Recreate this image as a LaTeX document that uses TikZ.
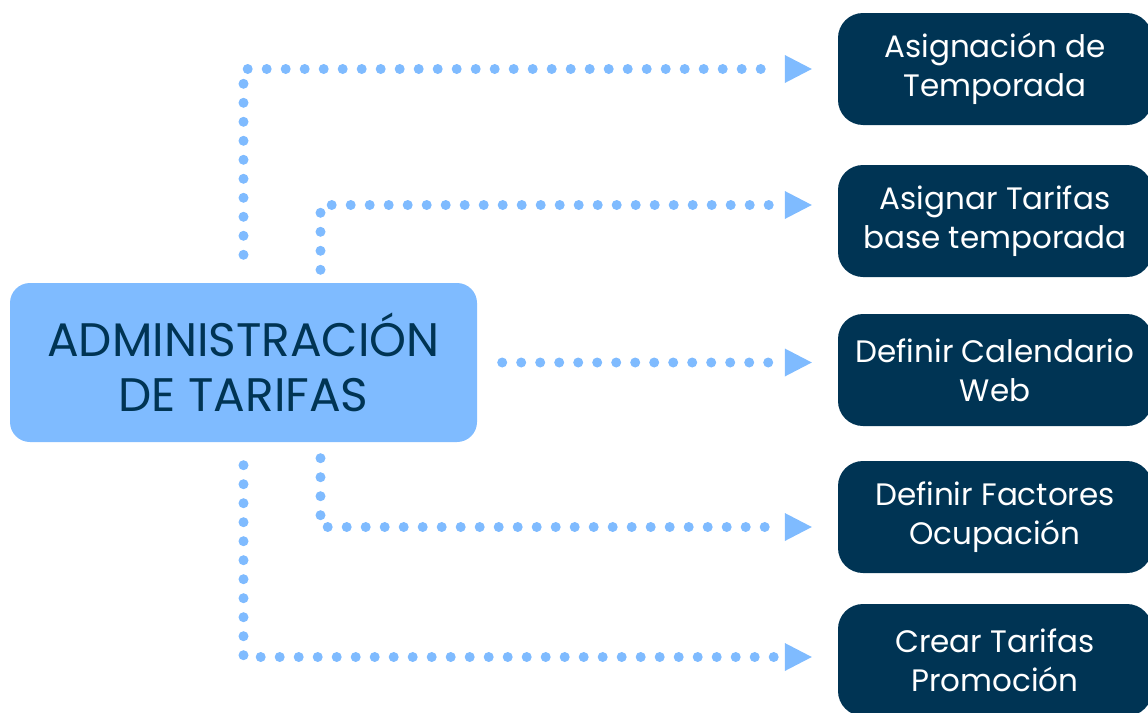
\documentclass[tikz,border=0pt]{standalone}
\usepackage{fontspec}
\setmainfont{Poppins}
\usetikzlibrary{arrows.meta,positioning}
\definecolor{skyblue}{RGB}{127,187,255}
\definecolor{navy}{RGB}{0,52,84}
\tikzstyle{flow} = [draw=skyblue, line width=10pt, line cap=round, dash pattern=on 0pt off 19pt, shorten >=63pt,
    postaction={draw=skyblue, line cap=butt, dash pattern=on 0pt off 2000pt, shorten >=26pt, -{Triangle[length=27pt,width=28pt,line width=0pt]}}]
\tikzstyle{hub} = [fill=skyblue, rounded corners=20pt, minimum width=467pt, minimum height=159pt, text=navy, align=center, font=\fontsize{47}{55}\selectfont]
\tikzstyle{task} = [fill=navy, rounded corners=25pt, minimum width=314pt, minimum height=112pt, text=white, align=center, font=\fontsize{31}{39}\selectfont]

\begin{document}
\begin{tikzpicture}[x=1pt, y=-1pt, node distance=148pt]
        \useasboundingbox (0,0) rectangle (1148,712);
        \clip (0,0) rectangle (1148,712);
        \node[hub] (admin) at (243.5,362.5) {ADMINISTRACIÓN\\DE TARIFAS};
        \node[task] (season) at (995,69) {Asignación de\\Temporada};
        \node[task, below of=season, node distance=152pt] (base) {Asignar Tarifas\\base temporada};
        \node[task, below of=base, node distance=149pt] (calendar) {Definir Calendario\\Web};
        \node[task, below of=calendar, node distance=147pt] (factors) {Definir Factores\\Ocupación};
        \node[task, below of=factors, node distance=143pt] (promo) {Crear Tarifas\\Promoción};
        \path[flow, shorten <=28pt] (admin.north) |- (season.west);
        \path[flow, shorten <=13pt] ([xshift=77pt]admin.north) |- ([yshift=16pt]base.west);
        \path[flow, shorten <=25pt] (admin.east) -- (admin.east -| calendar.west);
        \path[flow, shorten <=16pt] ([xshift=77pt]admin.south) |- ([yshift=-10pt]factors.west);
        \path[flow, shorten <=23pt] (admin.south) |- ([yshift=3pt]promo.west);
    \end{tikzpicture}
\end{document}
